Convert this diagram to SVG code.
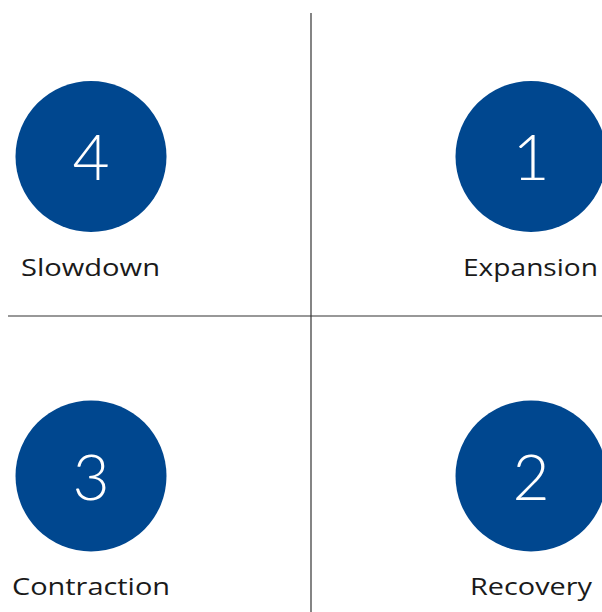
<svg xmlns="http://www.w3.org/2000/svg" width="602" height="612" viewBox="0 0 602 612">
<style>
.c{fill:#00478f}
.n{font-family:Lato,"Open Sans",sans-serif;font-weight:300;font-size:64px;fill:#fff;text-anchor:middle}
.l{font-family:"Open Sans",Lato,sans-serif;font-size:24.5px;fill:#1a1a1a;text-anchor:middle;font-variant-ligatures:none}
.ax{stroke:#333;stroke-width:1.2;fill:none}
</style>
<rect width="602" height="612" fill="#fff"/>
<g id="connectors">
<line class="ax" x1="311" y1="13" x2="311" y2="612"/>
<line class="ax" x1="8" y1="316" x2="602" y2="316"/>
</g>
<g id="node4"><circle class="c" cx="91" cy="156.5" r="75.5"/><text class="n" x="91" y="180">4</text><text class="l" x="90.5" y="276" textLength="139" lengthAdjust="spacingAndGlyphs">Slowdown</text></g>
<g id="node1"><circle class="c" cx="531" cy="156.5" r="75.5"/><text class="n" x="531" y="180">1</text><text class="l" x="530.5" y="276" textLength="135" lengthAdjust="spacingAndGlyphs">Expansion</text></g>
<g id="node3"><circle class="c" cx="91" cy="476" r="75.5"/><text class="n" x="91" y="499.5">3</text><text class="l" x="91" y="595" textLength="158" lengthAdjust="spacingAndGlyphs">Contraction</text></g>
<g id="node2"><circle class="c" cx="531" cy="476" r="75.5"/><text class="n" x="531" y="499.5">2</text><text class="l" x="531" y="595" textLength="122" lengthAdjust="spacingAndGlyphs">Recovery</text></g>
</svg>
